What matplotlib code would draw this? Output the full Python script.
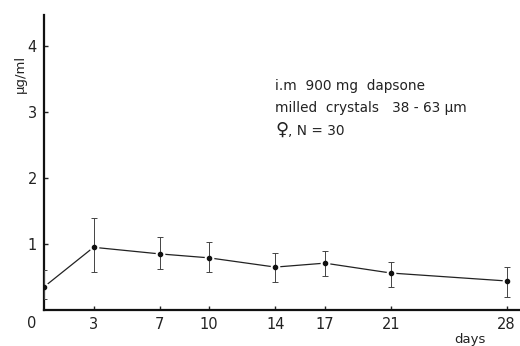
import numpy as np
import matplotlib.pyplot as plt

# data
days = [0, 3, 7, 10, 14, 17, 21, 28]
conc = [0.35, 0.95, 0.85, 0.79, 0.65, 0.71, 0.56, 0.44]
err_low = [0.18, 0.37, 0.23, 0.21, 0.22, 0.19, 0.21, 0.24]
err_high = [0.25, 0.44, 0.25, 0.24, 0.21, 0.19, 0.17, 0.21]
xticks = [3, 7, 10, 14, 17, 21, 28]
yticks = [1, 2, 3, 4]

plt.rcParams['font.family'] = ['DejaVu Sans']

fig = plt.figure(figsize=(5.2, 3.46), dpi=100)
ax = fig.add_axes([0.0846, 0.104, 0.915, 0.853])

# line with white gaps around points
ax.plot(days, conc, color='#222222', lw=0.9, marker='o', ms=6,
        mfc='white', mec='white', zorder=2)
ax.errorbar(days, conc, yerr=[err_low, err_high], fmt='none',
            ecolor='#444444', elinewidth=0.7, capsize=2, capthick=0.7, zorder=3)
ax.plot(days, conc, 'o', color='#111111', ms=3, zorder=4)

ax.set_xlim(0, 28.8)
ax.set_ylim(0, 4.47)
ax.set_xticks(xticks)
ax.set_yticks(yticks)
ax.tick_params(direction='in', length=3, width=1, labelsize=10.5, colors='#222222')
ax.tick_params(axis='x', pad=5)
ax.tick_params(axis='y', pad=5)

for s in ['top', 'right']:
    ax.spines[s].set_visible(False)
for s in ['left', 'bottom']:
    ax.spines[s].set_linewidth(1.6)
    ax.spines[s].set_color('#111111')

ax.text(-0.025, -0.045, '0', transform=ax.transAxes, ha='center', va='center',
        fontsize=10.5, color='#222222')
ax.set_ylabel('µg/ml', fontsize=9.5, color='#222222')
ax.yaxis.set_label_coords(-0.035, 0.80)
ax.text(0.895, -0.1, 'days', transform=ax.transAxes, ha='center', va='center',
        fontsize=9.5, color='#222222')

ax.text(0.486, 0.76, 'i.m  900 mg  dapsone', transform=ax.transAxes,
        fontsize=9.8, color='#222222', va='center')
ax.text(0.486, 0.685, 'milled  crystals   38 - 63 µm', transform=ax.transAxes,
        fontsize=9.8, color='#222222', va='center')
ax.text(0.486, 0.61, '♀', transform=ax.transAxes,
        fontsize=13, color='#222222', va='center')
ax.text(0.512, 0.605, ', N = 30', transform=ax.transAxes,
        fontsize=9.8, color='#222222', va='center')

fig.savefig('out.png', dpi=100)
